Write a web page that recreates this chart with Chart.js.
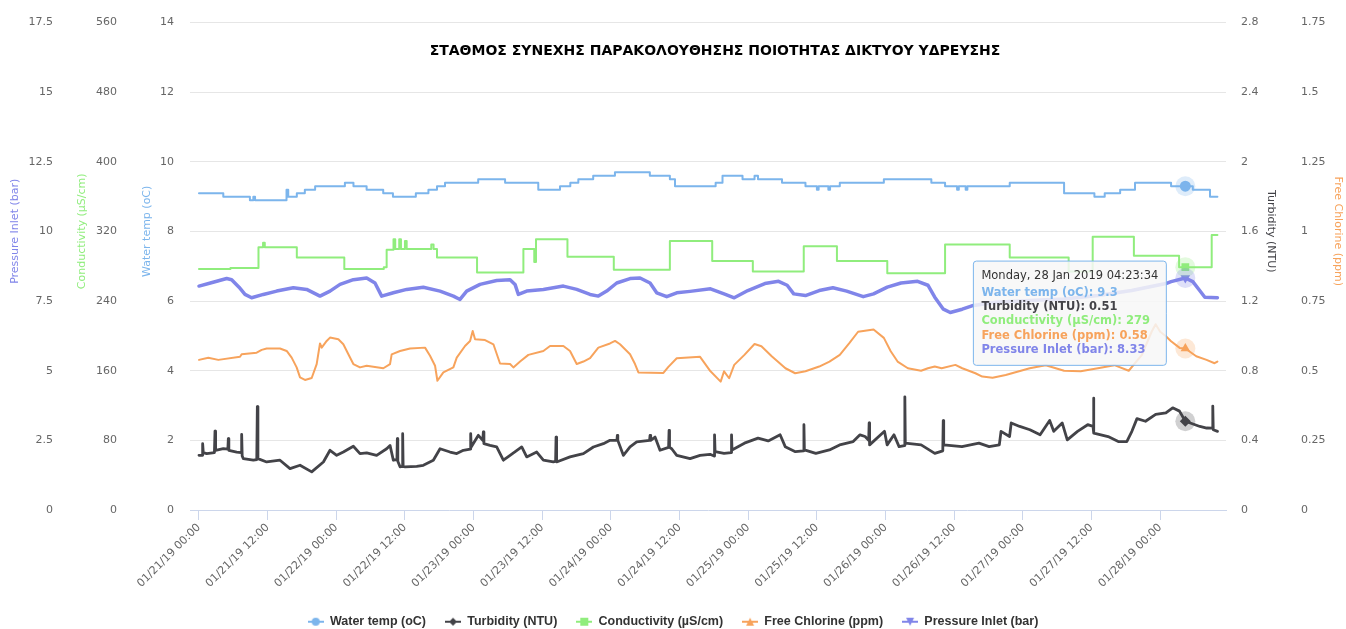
<!DOCTYPE html>
<html lang="el">
<head>
<meta charset="utf-8">
<title>ΣΤΑΘΜΟΣ ΣΥΝΕΧΗΣ ΠΑΡΑΚΟΛΟΥΘΗΣΗΣ</title>
<script src="https://cdn.jsdelivr.net/npm/chart.js@4.4.1/dist/chart.umd.min.js"></script>
<style>
html,body{margin:0;padding:0;background:#ffffff;overflow:hidden;}
#c{display:block;}
</style>
</head>
<body>
<canvas id="c" width="1346" height="629"></canvas>
<script>
// ---------------- DATA ----------------
const chartTitle = 'ΣΤΑΘΜΟΣ ΣΥΝΕΧΗΣ ΠΑΡΑΚΟΛΟΥΘΗΣΗΣ ΠΟΙΟΤΗΤΑΣ ΔΙΚΤΥΟΥ ΥΔΡΕΥΣΗΣ';
const seriesNames = ['Water temp (oC)', 'Turbidity (NTU)', 'Conductivity (µS/cm)', 'Free Chlorine (ppm)', 'Pressure Inlet (bar)'];
const seriesColors = ['#7cb5ec', '#434348', '#90ed7d', '#f7a35c', '#8085e9'];

// x values are hours after 2019-01-21 00:00
const xStartUTC = Date.UTC(2019, 0, 21, 0, 0, 0);
const xTickHours = [0, 12, 24, 36, 48, 60, 72, 84, 96, 108, 120, 132, 144, 156, 168];
const xTickLabels = ['01/21/19 00:00', '01/21/19 12:00', '01/22/19 00:00', '01/22/19 12:00',
  '01/23/19 00:00', '01/23/19 12:00', '01/24/19 00:00', '01/24/19 12:00', '01/25/19 00:00',
  '01/25/19 12:00', '01/26/19 00:00', '01/26/19 12:00', '01/27/19 00:00', '01/27/19 12:00',
  '01/28/19 00:00'];
const xRange = [-1.57, 179.5];

const tempRange = [0, 14, 2];
const turbRange = [0, 2.8, 0.4];
const condRange = [0, 560, 80];
const chlorRange = [0, 1.75, 0.25];
const pressRange = [0, 17.5, 2.5];

const tooltipHour = 172.3928;

// Water temp (stepped)
const tempHours = [0, 4.25, 8.9, 9.5, 9.8, 15.3, 15.6, 17.1, 18.5, 20.3, 25.5, 27.0, 29.3, 32.2, 33.9, 37.9, 40.1, 41.6, 43.0, 48.8, 53.5, 59.3, 63.1, 64.9, 66.3, 68.9, 72.7, 78.8, 82.3, 83.2, 90.3, 91.5, 95.0, 97.1, 97.7, 101.9, 106.0, 108.0, 108.3, 110.0, 110.3, 112.0, 119.7, 128.0, 130.4, 132.5, 132.8, 134.0, 134.3, 141.7, 151.2, 156.5, 158.3, 161.0, 163.6, 169.9, 172.3928, 173.7, 176.7, 178.0];
const tempValues = [9.1, 9.0, 8.9, 9.0, 8.9, 9.2, 9.0, 9.1, 9.2, 9.3, 9.4, 9.3, 9.2, 9.1, 9.0, 9.1, 9.2, 9.3, 9.4, 9.5, 9.4, 9.2, 9.3, 9.4, 9.5, 9.6, 9.7, 9.6, 9.5, 9.3, 9.4, 9.6, 9.5, 9.6, 9.5, 9.4, 9.3, 9.2, 9.3, 9.2, 9.3, 9.4, 9.5, 9.4, 9.3, 9.2, 9.3, 9.2, 9.3, 9.4, 9.1, 9.0, 9.1, 9.2, 9.4, 9.3, 9.3, 9.2, 9.0, 9.0];

// Turbidity
const turbHours = [0, 0.55, 0.64, 0.75, 1.34, 2.7, 2.8, 2.9, 4.25, 5.05, 5.13, 5.22, 6.59, 7.38, 7.46, 7.55, 7.75, 9.5, 10.1, 10.2, 10.3, 11.83, 14.16, 15.91, 17.66, 19.7, 21.74, 22.9, 24.07, 25.23, 26.98, 28.14, 29.31, 31.05, 32.8, 33.39, 33.97, 34.6, 34.67, 34.75, 35.14, 35.52, 35.6, 35.68, 36.01, 38.05, 39.21, 40.96, 42.13, 43.88, 45.05, 46.21, 47.4, 47.49, 47.58, 48.83, 49.6, 49.7, 49.8, 50.87, 52.03, 53.2, 54.37, 56.41, 57.28, 59.03, 60.19, 61.94, 62.33, 62.41, 62.5, 64.85, 67.19, 68.93, 70.68, 71.84, 73.05, 73.12, 73.2, 74.17, 75.34, 76.5, 78.75, 78.84, 78.95, 79.71, 80.58, 82.08, 82.16, 82.24, 82.62, 83.5, 85.83, 87.58, 89.32, 90.03, 90.11, 90.2, 91.77, 93.0, 93.08, 93.16, 95.33, 97.71, 99.49, 101.57, 102.46, 104.24, 105.65, 105.73, 105.81, 107.81, 110.18, 111.97, 114.34, 115.53, 116.42, 117.05, 117.13, 117.21, 119.81, 120.28, 121.47, 122.36, 123.29, 123.37, 123.45, 126.22, 128.6, 130.0, 130.08, 130.16, 133.35, 136.32, 138.1, 139.88, 140.18, 141.67, 141.96, 143.45, 145.23, 147.01, 148.68, 149.39, 150.87, 151.76, 153.55, 155.33, 156.26, 156.34, 156.42, 158.89, 160.67, 162.16, 163.05, 163.94, 165.43, 167.21, 168.99, 170.18, 171.37, 172.3928, 173.74, 174.93, 176.12, 177.11, 177.19, 177.27, 178.02];
const turbValues = [0.314, 0.314, 0.381, 0.33, 0.324, 0.33, 0.453, 0.343, 0.352, 0.35, 0.41, 0.343, 0.333, 0.33, 0.434, 0.31, 0.295, 0.286, 0.29, 0.594, 0.295, 0.276, 0.286, 0.238, 0.257, 0.219, 0.276, 0.343, 0.314, 0.333, 0.366, 0.324, 0.328, 0.314, 0.352, 0.371, 0.286, 0.29, 0.41, 0.28, 0.248, 0.25, 0.438, 0.25, 0.248, 0.251, 0.257, 0.286, 0.352, 0.333, 0.324, 0.343, 0.35, 0.438, 0.362, 0.429, 0.4, 0.448, 0.381, 0.371, 0.362, 0.286, 0.314, 0.362, 0.305, 0.333, 0.286, 0.276, 0.28, 0.419, 0.276, 0.305, 0.324, 0.362, 0.381, 0.4, 0.4, 0.429, 0.4, 0.314, 0.362, 0.391, 0.4, 0.429, 0.4, 0.419, 0.343, 0.36, 0.457, 0.36, 0.352, 0.314, 0.295, 0.314, 0.32, 0.31, 0.432, 0.335, 0.325, 0.33, 0.432, 0.345, 0.384, 0.413, 0.397, 0.432, 0.364, 0.335, 0.34, 0.49, 0.345, 0.325, 0.345, 0.374, 0.393, 0.432, 0.422, 0.4, 0.5, 0.374, 0.452, 0.374, 0.432, 0.364, 0.37, 0.65, 0.384, 0.374, 0.325, 0.34, 0.514, 0.374, 0.364, 0.384, 0.364, 0.374, 0.452, 0.422, 0.5, 0.48, 0.461, 0.432, 0.514, 0.452, 0.5, 0.403, 0.452, 0.49, 0.48, 0.642, 0.442, 0.422, 0.393, 0.393, 0.452, 0.525, 0.51, 0.549, 0.558, 0.587, 0.568, 0.51, 0.494, 0.48, 0.471, 0.47, 0.597, 0.461, 0.452];

// Conductivity (stepped)
const condHours = [0, 5.5, 10.4, 11.2, 11.5, 17.1, 25.4, 32.3, 32.8, 34.0, 34.3, 35.0, 35.3, 36.0, 36.3, 40.6, 41.0, 41.6, 48.6, 56.7, 58.6, 58.9, 64.4, 72.5, 82.3, 89.7, 96.8, 105.7, 111.5, 120.3, 130.4, 141.7, 152.0, 156.2, 163.4, 171.3, 172.3928, 177.0, 178.0];
const condValues = [277, 278, 302, 307, 302, 290, 277, 279, 299, 311, 300, 311, 300, 309, 300, 305, 300, 290, 273, 300, 285, 311, 291, 276, 309, 286, 274, 303, 286, 272, 305, 290, 274, 314, 292, 279, 279, 316, 316];

// Free Chlorine
const chlorHours = [0, 1.63, 3.38, 7.17, 7.46, 10.08, 10.96, 11.83, 14.16, 15.33, 16.2, 17.07, 17.66, 18.53, 19.7, 20.57, 21.15, 21.45, 22.32, 22.9, 24.36, 25.23, 26.11, 26.98, 28.14, 29.31, 32.22, 33.39, 33.68, 35.14, 36.89, 39.51, 40.38, 41.26, 41.67, 42.71, 44.46, 45.05, 46.5, 47.38, 47.84, 48.25, 50.0, 51.46, 52.62, 54.37, 54.95, 56.12, 57.57, 60.19, 61.36, 63.69, 64.85, 66.02, 67.19, 68.35, 69.8, 71.84, 72.72, 73.59, 75.34, 76.21, 76.8, 81.17, 82.04, 83.5, 87.58, 89.4, 91.18, 91.77, 92.66, 93.55, 95.33, 97.1, 98.3, 100.1, 102.5, 104.2, 106.0, 108.4, 110.2, 112.0, 113.7, 115.2, 117.9, 119.7, 120.9, 122.1, 123.9, 126.2, 127.4, 128.6, 129.8, 132.2, 133.4, 135.7, 136.9, 138.7, 141.0, 145.2, 148.0, 151.2, 154.1, 157.1, 160.0, 162.5, 164.8, 166.5, 167.2, 168.0, 169.0, 169.9, 171.4, 172.3928, 174.3, 176.1, 177.5, 178.0];
const chlorValues = [0.539, 0.547, 0.539, 0.55, 0.559, 0.565, 0.575, 0.58, 0.58, 0.571, 0.547, 0.512, 0.476, 0.467, 0.474, 0.524, 0.598, 0.583, 0.607, 0.619, 0.613, 0.595, 0.559, 0.524, 0.512, 0.518, 0.509, 0.524, 0.559, 0.571, 0.58, 0.583, 0.554, 0.518, 0.464, 0.494, 0.512, 0.547, 0.589, 0.607, 0.643, 0.613, 0.61, 0.595, 0.526, 0.524, 0.512, 0.533, 0.557, 0.571, 0.589, 0.589, 0.571, 0.524, 0.533, 0.545, 0.583, 0.598, 0.607, 0.595, 0.559, 0.524, 0.494, 0.492, 0.514, 0.545, 0.55, 0.498, 0.461, 0.498, 0.473, 0.521, 0.557, 0.596, 0.588, 0.552, 0.509, 0.491, 0.498, 0.515, 0.533, 0.557, 0.6, 0.64, 0.648, 0.618, 0.57, 0.533, 0.509, 0.5, 0.509, 0.515, 0.509, 0.521, 0.509, 0.491, 0.479, 0.475, 0.485, 0.509, 0.52, 0.5, 0.498, 0.509, 0.52, 0.5, 0.557, 0.64, 0.667, 0.64, 0.624, 0.606, 0.582, 0.58, 0.552, 0.539, 0.527, 0.533];

// Pressure Inlet
const pressHours = [0, 2, 4.84, 5.71, 7, 8.04, 9.2, 11.25, 13.58, 16.49, 18.82, 21.15, 22.9, 24.65, 26.98, 29.31, 30.76, 31.93, 33.97, 36.3, 39.21, 42.13, 44.46, 45.62, 46.79, 49.12, 52.03, 54.37, 55.24, 55.82, 57.28, 60.19, 63.69, 66.02, 68.35, 69.8, 71.26, 73.01, 75.34, 77.09, 78.84, 80.0, 81.75, 83.5, 85.83, 89.4, 91.77, 93.55, 95.93, 98.9, 101.3, 102.8, 103.95, 106.0, 108.4, 110.8, 113.2, 116.1, 117.9, 120.3, 122.7, 125.6, 127.4, 128.6, 130.1, 131.3, 133.4, 135.1, 139.3, 145.2, 151.2, 157.1, 163.0, 169.0, 169.9, 172.3928, 173.7, 174.9, 175.8, 178.0];
const pressValues = [8.04, 8.15, 8.31, 8.27, 8.0, 7.74, 7.62, 7.74, 7.86, 7.98, 7.92, 7.68, 7.86, 8.1, 8.27, 8.33, 8.15, 7.68, 7.8, 7.92, 8.0, 7.86, 7.68, 7.56, 7.86, 8.1, 8.24, 8.27, 8.1, 7.74, 7.86, 7.92, 8.04, 7.92, 7.74, 7.68, 7.86, 8.15, 8.31, 8.33, 8.15, 7.8, 7.66, 7.8, 7.85, 7.94, 7.76, 7.62, 7.88, 8.13, 8.21, 8.07, 7.76, 7.7, 7.88, 7.98, 7.86, 7.66, 7.76, 8.0, 8.15, 8.21, 8.07, 7.64, 7.21, 7.09, 7.21, 7.33, 7.46, 7.52, 7.58, 7.7, 7.88, 8.13, 8.2, 8.33, 8.2, 7.88, 7.64, 7.62];

// ---------------- CHART ----------------
const FONT = '"DejaVu Sans", sans-serif';
Chart.defaults.font.family = FONT;

function pts(h, v) { return h.map((t, i) => ({ x: t, y: v[i] })); }

function makeIcon(color, shape) {
  const c = document.createElement('canvas');
  c.width = 16; c.height = 12;
  const g = c.getContext('2d');
  g.strokeStyle = color; g.lineWidth = 2;
  g.beginPath(); g.moveTo(0, 6); g.lineTo(16, 6); g.stroke();
  g.fillStyle = color; g.beginPath();
  const cx = 8, cy = 6, r = 4;
  if (shape === 'circle') g.arc(cx, cy, r, 0, Math.PI * 2);
  else if (shape === 'diamond') { g.moveTo(cx, cy - r); g.lineTo(cx + r, cy); g.lineTo(cx, cy + r); g.lineTo(cx - r, cy); g.closePath(); }
  else if (shape === 'square') g.rect(cx - r, cy - r, 2 * r, 2 * r);
  else if (shape === 'triangle') { g.moveTo(cx, cy - r); g.lineTo(cx + r, cy + r); g.lineTo(cx - r, cy + r); g.closePath(); }
  else { g.moveTo(cx - r, cy - r); g.lineTo(cx + r, cy - r); g.lineTo(cx, cy + r); g.closePath(); }
  g.fill();
  return c;
}
const legendShapes = ['circle', 'diamond', 'square', 'triangle', 'triangle-down'];
const legendIcons = seriesColors.map((c, i) => makeIcon(c, legendShapes[i]));

function ds(i, h, v, axis, style, extra) {
  return Object.assign({
    label: seriesNames[i], data: pts(h, v), yAxisID: axis,
    borderColor: seriesColors[i], backgroundColor: seriesColors[i],
    borderWidth: 2, pointRadius: 0, pointStyle: style,
    pointHoverRadius: 5.5, pointHoverBorderWidth: 0,
    pointHoverBackgroundColor: seriesColors[i],
    borderJoinStyle: 'round', borderCapStyle: 'round', tension: 0
  }, extra || {});
}

const datasets = [
  ds(0, tempHours, tempValues, 'yTemp', 'circle', { stepped: true }),
  ds(1, turbHours, turbValues, 'yTurb', 'rectRot', { borderWidth: 2.8 }),
  ds(2, condHours, condValues, 'yCond', 'rect', { stepped: true }),
  ds(3, chlorHours, chlorValues, 'yChlor', 'triangle'),
  ds(4, pressHours, pressValues, 'yPress', 'triangle', { borderWidth: 3.5, pointRotation: 180 })
];

const tickFont = { family: FONT, size: 11 };
const fmt = v => String(Math.round(v * 1000) / 1000);

function yAxis(pos, weight, range, width, pad, grid) {
  return {
    type: 'linear', position: pos, weight: weight,
    min: range[0], max: range[1],
    ticks: { stepSize: range[2], color: '#666666', font: tickFont, padding: pad, callback: fmt },
    grid: grid ? { color: c => (c.tick && c.tick.value === 0) ? 'rgba(0,0,0,0)' : '#e6e6e6', drawTicks: false, lineWidth: 1 } : { display: false, drawTicks: false },
    border: { display: false },
    afterFit: s => { s.width = width; }
  };
}

const pad2 = n => String(n).padStart(2, '0');
const dayNames = ['Sunday', 'Monday', 'Tuesday', 'Wednesday', 'Thursday', 'Friday', 'Saturday'];
const monNames = ['Jan', 'Feb', 'Mar', 'Apr', 'May', 'Jun', 'Jul', 'Aug', 'Sep', 'Oct', 'Nov', 'Dec'];
function fmtDate(h) {
  const d = new Date(xStartUTC + Math.round(h * 3600) * 1000);
  return dayNames[d.getUTCDay()] + ', ' + d.getUTCDate() + ' ' + monNames[d.getUTCMonth()] + ' ' + d.getUTCFullYear() + ' ' +
    pad2(d.getUTCHours()) + ':' + pad2(d.getUTCMinutes()) + ':' + pad2(d.getUTCSeconds());
}

const TT = Chart.Tooltip || Chart.registry.plugins.get('tooltip');
TT.positioners.hcLeft = function (elements) {
  if (!elements.length) return false;
  const x = Math.min.apply(null, elements.map(e => e.element.x));
  const ys = elements.map(e => e.element.y);
  const y = ys.reduce((a, b) => a + b, 0) / ys.length;
  return { x: x - 19, y: y + 13, xAlign: 'right', yAlign: 'center' };
};

const axisTitleDefs = [
  { id: 'yPress', text: seriesNames[4], color: seriesColors[4], side: 'left', off: 15 },
  { id: 'yCond', text: seriesNames[2], color: seriesColors[2], side: 'left', off: 13 },
  { id: 'yTemp', text: seriesNames[0], color: seriesColors[0], side: 'left', off: 14 },
  { id: 'yTurb', text: seriesNames[1], color: seriesColors[1], side: 'right', off: 15 },
  { id: 'yChlor', text: seriesNames[3], color: seriesColors[3], side: 'right', off: 8 }
];

const decorPlugin = {
  id: 'decor',
  afterDatasetsDraw(chart) {
    const ctx = chart.ctx, a = chart.chartArea;
    // halos on active points
    chart.getActiveElements().forEach(act => {
      const el = act.element;
      ctx.save(); ctx.globalAlpha = 0.25; ctx.fillStyle = seriesColors[act.datasetIndex];
      ctx.beginPath(); ctx.arc(el.x, el.y, 10, 0, Math.PI * 2); ctx.fill(); ctx.restore();
    });
    // chart title
    ctx.save();
    ctx.font = 'bold 14px ' + FONT; ctx.fillStyle = '#000000';
    ctx.textAlign = 'center'; ctx.textBaseline = 'middle';
    ctx.fillText(chartTitle, (a.left + a.right) / 2 + 7, a.top + 29);
    ctx.restore();
    // axis titles
    const ty = (a.top + a.bottom) / 2 - 35;
    axisTitleDefs.forEach(d => {
      const s = chart.scales[d.id];
      const x = d.side === 'left' ? s.left + d.off : s.right - d.off;
      ctx.save(); ctx.translate(x, ty); ctx.rotate(d.side === 'left' ? -Math.PI / 2 : Math.PI / 2);
      ctx.font = '11px ' + FONT; ctx.fillStyle = d.color;
      ctx.textAlign = 'center'; ctx.textBaseline = 'middle';
      ctx.fillText(d.text, 0, 0); ctx.restore();
    });
  }
};

const chart = new Chart(document.getElementById('c'), {
  type: 'line',
  data: { datasets: datasets },
  options: {
    responsive: false, animation: false, events: [],
    devicePixelRatio: 1,
    layout: { padding: { top: 21, bottom: -9, left: 0, right: 0 } },
    scales: {
      x: {
        type: 'linear', position: 'bottom', min: xRange[0], max: xRange[1],
        afterBuildTicks: s => { s.ticks = xTickHours.map(v => ({ value: v })); },
        afterFit: s => { s.height = 86.5; },
        ticks: { autoSkip: false, minRotation: 45, maxRotation: 45, color: '#666666', font: tickFont, padding: 1,
          callback: (v, i) => xTickLabels[i] },
        grid: { drawOnChartArea: false, drawTicks: true, tickLength: 10, color: '#ccd6eb' },
        border: { display: true, color: '#ccd6eb', width: 1 }
      },
      yTemp: yAxis('left', 0, tempRange, 57, 16, true),
      yCond: yAxis('left', 1, condRange, 64, 16, false),
      yPress: yAxis('left', 2, pressRange, 69, 16, false),
      yTurb: yAxis('right', 0, turbRange, 60, 15, false),
      yChlor: yAxis('right', 1, chlorRange, 60, 15, false)
    },
    plugins: {
      title: { display: false },
      legend: {
        display: true, position: 'bottom', align: 'center',
        labels: {
          usePointStyle: true, pointStyleWidth: 16, boxHeight: 12, padding: 19,
          color: '#333333', font: { family: '"Liberation Sans", Arial, sans-serif', size: 12.5, weight: 'bold' },
          generateLabels: ch => ch.data.datasets.map((d, i) => ({
            text: d.label, fillStyle: d.borderColor, strokeStyle: d.borderColor, lineWidth: 0,
            pointStyle: legendIcons[i], rotation: 0, datasetIndex: i, hidden: false, fontColor: '#333333'
          }))
        }
      },
      tooltip: {
        enabled: true, position: 'hcLeft',
        backgroundColor: 'rgba(247,247,247,0.85)', borderColor: seriesColors[0], borderWidth: 1, cornerRadius: 3,
        caretSize: 0, caretPadding: 0, padding: 8, displayColors: false,
        titleColor: '#333333', titleFont: { family: FONT, size: 11.5, weight: 'normal', lineHeight: 1.25 },
        bodyFont: { family: FONT, size: 11.5, weight: 'bold', lineHeight: 1.25 },
        titleMarginBottom: 2, bodySpacing: 0,
        callbacks: {
          title: items => items.length ? fmtDate(items[0].parsed.x) : '',
          label: item => item.dataset.label + ': ' + item.parsed.y,
          labelTextColor: item => item.dataset.borderColor
        }
      }
    }
  },
  plugins: [decorPlugin]
});

const active = chart.data.datasets.map((d, i) => ({
  datasetIndex: i, index: d.data.findIndex(p => Math.abs(p.x - tooltipHour) < 1e-9)
}));
chart.setActiveElements(active);
chart.tooltip.setActiveElements(active, { x: 0, y: 0 });
chart.update();
</script>
</body>
</html>
